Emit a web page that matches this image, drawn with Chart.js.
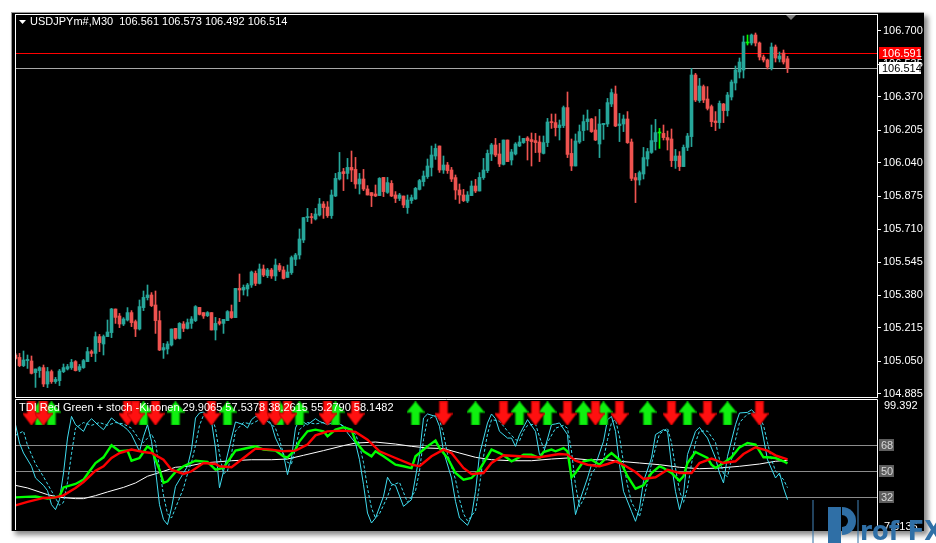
<!DOCTYPE html>
<html>
<head>
<meta charset="utf-8">
<script src="https://cdn.jsdelivr.net/npm/chart.js@4.4.1/dist/chart.umd.min.js"></script>
<style>
  html, body { margin: 0; padding: 0; background: #ffffff; }
  #wrap { position: relative; width: 936px; height: 543px; overflow: hidden; background: #ffffff; }
  #frame { position: absolute; left: 11px; top: 12px; width: 912px; height: 518px; background: #000;
           border-left: 1px solid #9a9a9a; border-top: 1px solid #9a9a9a;
           box-shadow: 4px 4px 5px #8a8a8a; }
  canvas { position: absolute; left: 0; top: 0; }
</style>
</head>
<body>
<div id="wrap">
  <div id="frame"></div>
  <canvas id="main" width="936" height="543" style="width:936px;height:543px"></canvas>
  <canvas id="ind" width="936" height="543" style="width:936px;height:543px"></canvas>
</div>
<script>
// ---- price data (M30 candles) ----
const opens = [
  105.080,105.068,105.027,105.052,105.050,104.992,105.002,105.017,104.935,104.997,
  104.947,104.952,104.997,105.010,105.017,105.047,105.005,105.017,105.047,105.097,
  105.088,105.172,105.135,105.172,105.192,105.310,105.275,105.235,105.255,105.292,
  105.247,105.210,105.317,105.367,105.380,105.330,105.252,105.105,105.110,105.130,
  105.213,105.163,105.235,105.213,105.238,105.252,105.318,105.292,105.277,105.292,
  105.205,105.247,105.238,105.252,105.297,105.267,105.413,105.405,105.410,105.430,
  105.488,105.438,105.510,105.477,105.505,105.475,105.527,105.505,105.468,105.492,
  105.558,105.580,105.655,105.767,105.772,105.760,105.780,105.835,105.820,105.777,
  105.875,105.960,105.997,105.988,106.018,106.008,105.935,105.960,105.910,105.892,
  105.885,105.877,105.968,105.893,105.938,105.880,105.863,105.875,105.817,105.852,
  105.860,105.908,105.947,105.972,106.018,106.075,106.125,106.005,106.030,106.005,
  105.967,105.905,105.880,105.850,105.877,105.925,105.900,105.967,106.002,106.085,
  106.130,106.085,106.033,106.155,106.055,106.085,106.125,106.142,106.165,106.157,
  106.152,106.145,106.088,106.142,106.247,106.242,106.217,106.227,106.317,106.088,
  106.025,106.145,106.202,106.247,106.260,106.205,106.135,106.232,106.235,106.335,
  106.385,106.227,106.235,106.260,106.145,105.967,105.955,105.985,106.060,106.093,
  106.147,106.190,106.188,106.167,106.160,106.052,106.075,106.022,106.118,106.172,
  106.480,106.352,106.422,106.360,106.322,106.250,106.242,106.335,106.302,106.370,
  106.440,106.495,106.505,106.640,106.640,106.680,106.640,106.570,106.555,106.515,
  106.620,106.560,106.590,106.561
];
const highs = [
  105.088,105.088,105.100,105.080,105.075,105.010,105.022,105.030,105.018,105.005,
  104.968,105.008,105.035,105.033,105.058,105.052,105.033,105.058,105.118,105.105,
  105.195,105.183,105.180,105.255,105.313,105.310,105.288,105.267,105.317,105.302,
  105.255,105.355,105.400,105.430,105.392,105.400,105.300,105.138,105.147,105.210,
  105.213,105.242,105.247,105.260,105.272,105.327,105.318,105.292,105.297,105.292,
  105.268,105.263,105.258,105.302,105.330,105.413,105.485,105.430,105.438,105.500,
  105.500,105.535,105.530,105.513,105.513,105.560,105.538,105.522,105.530,105.575,
  105.588,105.710,105.768,105.813,105.788,105.813,105.863,105.847,105.847,105.905,
  105.988,106.093,106.013,106.063,106.100,106.068,105.988,106.008,105.927,105.892,
  105.930,105.967,105.968,105.968,105.952,105.897,105.888,105.875,105.880,105.880,
  105.918,105.958,106.000,106.060,106.125,106.135,106.125,106.075,106.043,106.018,
  105.980,105.935,105.908,105.897,105.950,105.958,105.992,106.063,106.105,106.138,
  106.163,106.138,106.155,106.155,106.108,106.142,106.175,106.163,106.172,106.190,
  106.188,106.175,106.175,106.263,106.285,106.285,106.255,106.325,106.395,106.160,
  106.185,106.230,106.280,106.305,106.263,106.272,106.308,106.238,106.363,106.410,
  106.425,106.288,106.280,106.297,106.160,105.988,106.000,106.118,106.113,106.230,
  106.258,106.213,106.230,106.200,106.210,106.108,106.097,106.130,106.188,106.513,
  106.488,106.463,106.430,106.422,106.330,106.297,106.350,106.338,106.393,106.455,
  106.525,106.565,106.675,106.680,106.685,106.690,106.645,106.580,106.560,106.640,
  106.630,106.595,106.605,106.573
];
const lows = [
  105.058,105.022,105.022,105.013,104.985,104.918,104.968,104.922,104.917,104.938,
  104.938,104.927,104.992,105.005,105.008,105.000,104.997,105.013,105.047,105.072,
  105.047,105.097,105.080,105.172,105.167,105.238,105.217,105.227,105.250,105.222,
  105.172,105.205,105.302,105.355,105.322,105.188,105.102,105.063,105.085,105.125,
  105.158,105.160,105.197,105.210,105.213,105.247,105.280,105.263,105.272,105.205,
  105.155,105.230,105.188,105.252,105.263,105.267,105.347,105.380,105.375,105.418,
  105.427,105.435,105.472,105.467,105.463,105.452,105.497,105.460,105.468,105.483,
  105.527,105.560,105.642,105.747,105.738,105.755,105.775,105.763,105.768,105.763,
  105.872,105.955,105.902,105.960,105.947,105.913,105.885,105.902,105.880,105.822,
  105.872,105.877,105.872,105.888,105.872,105.842,105.852,105.817,105.788,105.838,
  105.858,105.905,105.925,105.963,105.975,106.058,105.993,105.988,105.988,105.947,
  105.858,105.838,105.847,105.842,105.877,105.892,105.900,105.958,105.992,106.052,
  106.072,106.022,106.030,106.047,106.030,106.080,106.122,106.138,106.055,106.025,
  106.092,106.047,106.085,106.122,106.213,106.175,106.155,106.217,106.067,106.002,
  106.025,106.138,106.152,106.205,106.193,106.152,106.067,106.158,106.222,106.322,
  106.222,106.147,106.197,106.138,105.952,105.842,105.930,105.960,106.025,106.088,
  106.105,106.113,106.155,106.105,106.022,106.013,106.002,106.022,106.102,106.122,
  106.347,106.343,106.342,106.305,106.222,106.202,106.213,106.242,106.275,106.355,
  106.405,106.465,106.465,106.630,106.630,106.625,106.555,106.545,106.510,106.505,
  106.545,106.545,106.535,106.492
];
const closes = [
  105.063,105.027,105.055,105.058,104.988,105.010,105.017,104.935,104.997,104.947,
  104.958,105.000,105.017,105.022,105.043,105.002,105.022,105.052,105.097,105.088,
  105.172,105.142,105.172,105.195,105.310,105.268,105.235,105.260,105.292,105.242,
  105.210,105.322,105.368,105.380,105.327,105.252,105.105,105.117,105.135,105.210,
  105.163,105.238,105.213,105.242,105.260,105.322,105.283,105.275,105.292,105.205,
  105.238,105.238,105.258,105.297,105.267,105.413,105.405,105.418,105.430,105.495,
  105.438,105.510,105.480,105.505,105.475,105.530,105.505,105.463,105.495,105.567,
  105.580,105.660,105.767,105.770,105.767,105.785,105.835,105.817,105.777,105.880,
  105.963,105.993,105.987,106.018,106.005,105.935,105.960,105.910,105.880,105.877,
  105.875,105.963,105.897,105.942,105.875,105.863,105.880,105.830,105.855,105.867,
  105.913,105.952,105.975,106.025,106.080,106.113,106.005,106.030,106.002,105.960,
  105.905,105.880,105.852,105.880,105.925,105.900,105.968,106.005,106.088,106.130,
  106.080,106.035,106.155,106.047,106.095,106.135,106.145,106.163,106.152,106.147,
  106.142,106.093,106.142,106.245,106.242,106.217,106.230,106.317,106.083,106.025,
  106.150,106.197,106.247,106.260,106.197,106.155,106.235,106.238,106.342,106.392,
  106.225,106.235,106.260,106.142,105.963,105.955,105.992,106.067,106.097,106.152,
  106.192,106.190,106.167,106.155,106.052,106.075,106.022,106.118,106.175,106.480,
  106.355,106.425,106.355,106.313,106.247,106.242,106.338,106.302,106.380,106.445,
  106.505,106.545,106.645,106.640,106.680,106.640,106.570,106.555,106.520,106.620,
  106.565,106.575,106.545,106.514
];
const priceTicks = [104.885, 105.050, 105.215, 105.380, 105.545, 105.710,
                    105.875, 106.040, 106.205, 106.370, 106.535, 106.700];
const askPrice = 106.591;
const bidPrice = 106.514;
const symbolTitle = 'USDJPYm#,M30  106.561 106.573 106.492 106.514';

// ---- TDI + stochastic indicator, [bar, value] ----
const tdiGreen = [
  [1,31.5],[6,32.2],[9,30.6],[12,32.2],[13,38.5],[16,40.9],[18,43.9],[19,47.9],[21,55.6],[23,59.6],
  [25,68.0],[27,63.8],[29,64.3],[30,57.2],[32,59.1],[34,67.3],[35,65.0],[37,50.9],[38,41.6],[39,42.8],
  [41,49.3],[43,53.3],[46,57.2],[49,56.3],[51,50.9],[53,52.1],[56,64.3],[59,66.1],[61,67.3],[63,65.0],
  [66,64.3],[68,60.3],[69,59.6],[71,65.0],[72,70.8],[74,77.8],[76,79.0],[78,77.8],[79,74.3],[81,79.0],
  [83,80.6],[85,79.0],[86,70.8],[88,63.8],[90,60.3],[91,63.8],[93,60.3],[96,54.4],[98,53.3],[100,52.0],
  [101,60.3],[104,67.3],[106,71.3],[107,66.1],[109,59.1],[111,48.6],[113,43.9],[115,45.1],[117,50.9],
  [119,60.3],[120,65.0],[122,62.6],[123,61.0],[125,56.8],[127,59.6],[128,61.5],[130,61.5],[132,59.1],
  [133,63.3],[135,65.0],[136,63.8],[138,66.1],[139,63.8],[140,45.6],[141,48.6],[143,56.8],[145,57.9],
  [147,54.4],[149,60.3],[150,62.6],[152,57.9],[154,46.3],[156,37.6],[158,39.9],[160,48.6],[162,53.3],
  [163,52.1],[165,48.6],[167,43.2],[168,46.3],[169,55.6],[171,63.3],[172,61.9],[174,59.1],[175,54.4],
  [176,52.1],[178,55.6],[180,59.6],[182,66.6],[184,69.6],[186,68.5],[188,59.6],[189,59.6],[191,59.1],
  [193,56.8],[194,55.3]
];
const tdiRed = [
  [1,25.9],[4,28.3],[8,31.1],[11,31.5],[13,32.9],[16,38.1],[18,42.3],[21,50.2],[23,53.3],[25,59.1],
  [27,62.6],[30,65.0],[33,63.3],[35,62.6],[38,57.9],[40,50.9],[43,47.9],[45,49.8],[48,55.6],[51,54.9],
  [52,53.3],[55,52.6],[58,59.1],[61,65.7],[65,65.0],[68,63.8],[71,64.3],[74,68.5],[76,75.0],[79,77.8],
  [83,78.3],[86,77.4],[89,72.0],[92,63.8],[96,59.1],[100,54.4],[102,53.3],[105,60.3],[108,65.0],
  [110,62.6],[113,52.1],[115,47.9],[118,48.6],[120,55.6],[123,61.0],[127,60.3],[132,59.6],[137,61.9],
  [139,61.5],[141,57.2],[144,54.4],[147,53.3],[149,54.9],[151,56.8],[153,54.4],[156,49.3],[158,44.4],
  [161,45.6],[164,50.9],[167,48.6],[170,48.6],[172,55.6],[175,58.7],[178,55.6],[181,56.8],[183,61.9],
  [186,66.6],[189,64.3],[191,61.0],[194,58.1]
];
const tdiBase = [
  [1,39.9],[4,38.1],[9,33.4],[12,31.5],[16,30.6],[18,30.6],[21,32.7],[24,35.3],[28,38.5],[31,41.6],
  [34,46.3],[38,49.8],[41,52.6],[44,53.3],[48,55.6],[51,56.3],[55,57.2],[60,57.9],[65,57.9],[69,58.4],
  [73,61.0],[78,64.3],[83,67.8],[86,69.6],[91,70.3],[96,68.9],[100,67.3],[104,66.1],[108,65.7],
  [112,62.6],[116,59.6],[120,57.9],[125,57.2],[130,57.2],[135,58.4],[139,59.1],[144,57.9],[149,57.9],
  [152,56.8],[157,55.6],[162,54.4],[167,52.6],[172,51.6],[177,52.1],[182,53.3],[187,54.9],[191,56.8],
  [194,57.5]
];
const stochMain = [
  [1,82.5],[2,69.6],[3,62.6],[5,53.3],[6,45.1],[8,39.9],[9,36.2],[10,26.4],[11,22.9],[12,29.9],
  [13,48.6],[14,73.1],[15,88.3],[16,82.5],[18,77.8],[19,83.7],[20,86.7],[22,81.3],[23,79.0],[25,87.2],
  [26,84.8],[28,81.3],[29,79.0],[30,75.5],[32,63.8],[33,74.3],[34,82.5],[35,70.8],[36,50.9],[37,26.4],
  [38,15.9],[39,12.4],[40,24.0],[41,39.2],[43,48.6],[44,53.3],[45,65.0],[46,87.2],[47,90.7],[48,91.4],
  [50,84.8],[51,66.1],[52,38.2],[53,49.8],[55,73.1],[56,84.4],[58,82.5],[59,80.2],[60,86.0],[61,88.3],
  [63,87.2],[65,82.5],[66,73.1],[68,61.5],[69,47.4],[70,59.1],[71,80.2],[72,86.0],[74,82.5],[76,86.7],
  [77,84.8],[79,82.5],[81,84.8],[83,81.3],[84,76.7],[86,69.6],[87,57.9],[88,40.4],[89,20.5],[90,13.5],
  [91,17.0],[93,32.2],[94,45.6],[95,40.9],[96,39.9],[98,25.2],[100,29.9],[102,61.5],[103,87.2],
  [104,90.0],[106,88.3],[107,81.3],[108,63.8],[110,45.1],[111,28.7],[112,17.0],[114,11.9],[115,18.2],
  [116,35.7],[117,61.5],[119,83.7],[120,90.0],[121,86.7],[122,77.8],[124,73.1],[125,73.1],[126,67.3],
  [127,75.5],[129,86.0],[131,77.8],[132,61.5],[133,62.6],[135,82.5],[136,83.0],[137,83.7],[139,75.5],
  [140,42.8],[141,19.4],[142,28.7],[144,45.1],[145,54.4],[146,54.4],[148,70.8],[149,86.0],[150,88.3],
  [151,77.8],[152,54.4],[153,35.7],[155,21.7],[156,14.7],[157,24.0],[158,42.8],[160,59.1],[161,75.5],
  [163,79.0],[164,77.8],[165,54.4],[166,35.7],[167,22.9],[168,33.4],[169,61.5],[171,77.8],[172,80.6],
  [173,76.7],[174,73.1],[176,59.1],[177,48.6],[178,41.6],[179,60.3],[181,82.5],[182,90.7],[184,91.1],
  [185,93.0],[187,87.2],[188,73.1],[189,57.9],[191,45.1],[192,48.6],[193,38.1],[194,29.9]
];
const stochSignal = [
  [1,75],[3,78],[4,68],[6,55],[8,46],[10,36],[12,26],[13,28],[14,42],[15,62],[16,80],[18,84],[20,82],
  [22,84],[24,82],[26,84],[28,83],[30,80],[32,72],[33,70],[35,76],[36,70],[37,52],[38,33],[39,20],
  [40,17],[41,24],[43,38],[44,48],[45,56],[46,68],[47,82],[48,89],[50,88],[51,80],[52,62],[53,48],
  [54,50],[55,62],[56,78],[58,84],[60,83],[62,86],[64,86],[66,80],[67,72],[68,62],[69,56],[70,55],
  [71,66],[72,79],[74,84],[76,83],[78,84],[80,83],[82,83],[84,80],[86,76],[87,68],[88,56],[89,38],
  [90,24],[91,17],[92,20],[94,32],[95,40],[97,42],[98,35],[99,28],[101,36],[102,50],[103,72],[104,86],
  [106,89],[107,86],[108,76],[109,62],[111,44],[112,30],[113,20],[114,15],[116,22],[117,40],[118,60],
  [119,76],[120,86],[122,85],[124,78],[126,72],[127,71],[128,78],[129,82],[131,83],[132,74],[133,66],
  [134,70],[136,80],[138,82],[139,80],[140,64],[141,40],[142,25],[143,30],[144,38],[145,48],[146,52],
  [148,58],[149,72],[150,84],[151,86],[152,74],[153,56],[154,40],[155,28],[157,18],[158,30],[159,42],
  [160,55],[161,66],[162,76],[164,80],[165,70],[166,52],[167,36],[168,28],[169,38],[170,55],[171,70],
  [172,78],[174,78],[176,70],[177,58],[178,48],[179,46],[180,58],[181,72],[182,84],[184,90],[186,91],
  [187,88],[188,82],[189,70],[190,58],[191,50],[193,44],[194,38.3]
];
const sellArrows = [5, 8, 29, 31, 36, 50, 63, 66, 69, 79, 86, 108, 123, 131, 139, 146, 152, 165, 174, 187];
const buyArrows = [7, 10, 33, 41, 54, 67, 72, 81, 101, 116, 127, 134, 143, 148, 159, 169, 179];
const indLevels = [32, 50, 68];
const indMaxLabel = '99.392';
const indMinLabel = '7.0136';
const indTitle = 'TDI Red Green + stoch -Kinonen 29.9065 57.5378 38.2615 55.2790 58.1482';

// ---- look ----
const FONT = "'Liberation Sans Narrow', 'Liberation Sans', Arial, sans-serif";
const upCol = '#26a69a', dnCol = '#ef5350', dojiCol = '#00ff00';
const barMin = 0.875, barMax = 216.375;   // 4px per bar over the 862px plot

const bars = opens.map((_, k) => k + 1);
const candleCol = bars.map((_, k) =>
  closes[k] > opens[k] ? upCol : (closes[k] < opens[k] ? dnCol : dojiCol));

function frameLine(ctx, x1, y1, x2, y2, col) {
  ctx.strokeStyle = col;
  ctx.lineWidth = 1;
  ctx.beginPath();
  ctx.moveTo(x1, y1);
  ctx.lineTo(x2, y2);
  ctx.stroke();
}

const mainDecor = {
  id: 'mainDecor',
  beforeDatasetsDraw(chart) {
    const { ctx, chartArea: a, scales: { y } } = chart;
    ctx.save();
    frameLine(ctx, a.left, Math.round(y.getPixelForValue(askPrice)) + 0.5,
              a.right, Math.round(y.getPixelForValue(askPrice)) + 0.5, '#ff0000');
    frameLine(ctx, a.left, Math.round(y.getPixelForValue(bidPrice)) + 0.5,
              a.right, Math.round(y.getPixelForValue(bidPrice)) + 0.5, '#a8a8a8');
    ctx.restore();
  },
  afterDraw(chart) {
    const { ctx, chartArea: a, scales: { x, y } } = chart;
    ctx.save();
    // panel frame
    ctx.strokeStyle = '#ffffff';
    ctx.strokeRect(a.left + 0.5, a.top + 0.5, a.right - a.left, a.bottom - a.top);

    // symbol title
    ctx.fillStyle = '#ffffff';
    ctx.beginPath();
    ctx.moveTo(a.left + 4, a.top + 6);
    ctx.lineTo(a.left + 11, a.top + 6);
    ctx.lineTo(a.left + 7.5, a.top + 10);
    ctx.closePath();
    ctx.fill();
    ctx.font = '11px ' + FONT;
    ctx.textBaseline = 'middle';
    ctx.textAlign = 'left';
    ctx.fillText(symbolTitle, a.left + 15, a.top + 8);

    // chart shift marker
    const sx = Math.round(x.getPixelForValue(bars.length + 0.75));
    ctx.fillStyle = '#7f7f7f';
    ctx.beginPath();
    ctx.moveTo(sx - 5, a.top + 1);
    ctx.lineTo(sx + 5, a.top + 1);
    ctx.lineTo(sx, a.top + 6);
    ctx.closePath();
    ctx.fill();

    // ask / bid boxes on the price scale
    [[askPrice, '#ff0000', '#ffffff'], [bidPrice, '#ffffff', '#000000']].forEach(([p, bg, fg]) => {
      const py = Math.round(y.getPixelForValue(p));
      ctx.fillStyle = bg;
      ctx.fillRect(a.right + 2, py - 6, 42, 12);
      ctx.fillStyle = fg;
      ctx.fillText(p.toFixed(3), a.right + 5, py + 0.5);
    });
    ctx.restore();
  }
};

new Chart(document.getElementById('main'), {
  type: 'bar',
  data: {
    datasets: [
      {
        data: bars.map((b, k) => ({ x: b, y: [lows[k], highs[k]] })),
        backgroundColor: candleCol,
        barThickness: 1,
        grouped: false,
        borderWidth: 0,
        order: 2
      },
      {
        data: bars.map((b, k) => ({ x: b, y: [opens[k], closes[k]] })),
        backgroundColor: candleCol,
        barThickness: 3,
        minBarLength: 1,
        grouped: false,
        borderWidth: 0,
        order: 1
      }
    ]
  },
  options: {
    responsive: false,
    animation: false,
    devicePixelRatio: 1,
    layout: { padding: { left: 15, top: 14, right: 0, bottom: 146 } },
    plugins: { legend: { display: false }, tooltip: { enabled: false } },
    scales: {
      x: { type: 'linear', min: barMin, max: barMax, offset: false, display: false },
      y: {
        position: 'right',
        min: 104.87,
        max: 106.785,
        afterBuildTicks: (s) => { s.ticks = priceTicks.map(v => ({ value: v })); },
        afterFit: (s) => { s.width = 59; },
        border: { display: false },
        grid: { drawOnChartArea: false, drawTicks: true, tickLength: 4, color: '#ffffff' },
        ticks: {
          color: '#ffffff',
          padding: 2,
          autoSkip: false,
          font: { family: FONT, size: 11 },
          callback: (v) => Number(v).toFixed(3)
        }
      }
    }
  },
  plugins: [mainDecor]
});

// ---- indicator window ----
function arrowImage(col, edge, up) {
  const c = document.createElement('canvas');
  c.width = 18; c.height = 24;
  const g = c.getContext('2d');
  g.beginPath();
  if (up) {
    g.moveTo(9, 0); g.lineTo(18, 11); g.lineTo(13, 11); g.lineTo(13, 24);
    g.lineTo(5, 24); g.lineTo(5, 11); g.lineTo(0, 11);
  } else {
    g.moveTo(5, 0); g.lineTo(13, 0); g.lineTo(13, 12); g.lineTo(18, 12);
    g.lineTo(9, 24); g.lineTo(0, 12); g.lineTo(5, 12);
  }
  g.closePath();
  g.fillStyle = col;
  g.fill();
  g.strokeStyle = edge;
  g.lineWidth = 1;
  g.stroke();
  return c;
}
const arrowLevel = 90.4;
const pts = (arr) => arr.map(([b, v]) => ({ x: b, y: v }));

const indDecor = {
  id: 'indDecor',
  beforeDatasetsDraw(chart) {
    const { ctx, chartArea: a, scales: { y } } = chart;
    ctx.save();
    indLevels.forEach(l => {
      const py = Math.round(y.getPixelForValue(l)) + 0.5;
      frameLine(ctx, a.left, py, a.right, py, '#8c8c8c');
    });
    ctx.restore();
  },
  afterDraw(chart) {
    const { ctx, chartArea: a, scales: { y } } = chart;
    ctx.save();
    frameLine(ctx, a.left + 0.5, a.top - 0.5, a.right + 0.5, a.top - 0.5, '#ffffff');
    frameLine(ctx, a.left + 0.5, a.top - 0.5, a.left + 0.5, a.bottom, '#ffffff');
    frameLine(ctx, a.right + 0.5, a.top - 0.5, a.right + 0.5, a.bottom, '#ffffff');

    ctx.font = '11px ' + FONT;
    ctx.textBaseline = 'middle';
    ctx.textAlign = 'left';
    ctx.fillStyle = '#ffffff';
    ctx.fillText(indTitle, a.left + 4, a.top + 8);
    ctx.fillText(indMaxLabel, a.right + 7, a.top + 6);
    ctx.fillText(indMinLabel, a.right + 7, a.bottom - 3);

    indLevels.forEach(l => {
      const py = Math.round(y.getPixelForValue(l));
      ctx.fillStyle = '#5e5e5e';
      ctx.fillRect(a.right + 2, py - 6, 15, 12);
      ctx.fillStyle = '#d8d8d8';
      ctx.fillText(String(l), a.right + 4, py + 0.5);
    });

    // site watermark, bottom right
    ctx.fillStyle = 'rgba(60,120,170,0.55)';
    ctx.fillRect(812, 500, 2, 43);
    ctx.fillRect(857, 500, 2, 43);
    ctx.fillStyle = '#2f6fa6';
    ctx.fillRect(828, 507, 13, 36);
    ctx.beginPath();
    ctx.arc(842, 521, 14, -Math.PI / 2, Math.PI / 2);
    ctx.fill();
    ctx.fillStyle = '#000';
    ctx.beginPath();
    ctx.arc(842, 521, 6, -Math.PI / 2, Math.PI / 2);
    ctx.fill();
    ctx.fillStyle = '#2f6fa6';
    ctx.font = "bold 27px 'DejaVu Sans Condensed', 'DejaVu Sans', sans-serif";
    ctx.textBaseline = 'alphabetic';
    ctx.fillText('rof FX', 860, 540);
    ctx.restore();
  }
};

new Chart(document.getElementById('ind'), {
  type: 'line',
  data: {
    datasets: [
      { data: sellArrows.map(b => ({ x: b, y: arrowLevel })), showLine: false,
        pointStyle: arrowImage('#ff1010', '#c00000', false), pointRadius: 9, order: 0 },
      { data: buyArrows.map(b => ({ x: b, y: arrowLevel })), showLine: false,
        pointStyle: arrowImage('#10f010', '#00a000', true), pointRadius: 9, order: 0 },
      { data: pts(tdiRed), borderColor: '#ff0000', borderWidth: 2.4, pointRadius: 0, order: 1 },
      { data: pts(tdiGreen), borderColor: '#00ff00', borderWidth: 2.4, pointRadius: 0, order: 2 },
      { data: pts(stochMain), borderColor: '#3fdcef', borderWidth: 1, pointRadius: 0, order: 3 },
      { data: pts(stochSignal), borderColor: '#3fdcef', borderWidth: 1, borderDash: [3, 2],
        pointRadius: 0, order: 4 },
      { data: pts(tdiBase), borderColor: '#ffffff', borderWidth: 1, pointRadius: 0, order: 5 }
    ]
  },
  options: {
    responsive: false,
    animation: false,
    devicePixelRatio: 1,
    layout: { padding: { left: 15, top: 400, right: 59, bottom: 13 } },
    plugins: { legend: { display: false }, tooltip: { enabled: false } },
    elements: { line: { tension: 0 } },
    scales: {
      x: { type: 'linear', min: barMin, max: barMax, display: false },
      y: { min: 8.6, max: 99.8, display: false }
    }
  },
  plugins: [indDecor]
});
</script>
</body>
</html>
